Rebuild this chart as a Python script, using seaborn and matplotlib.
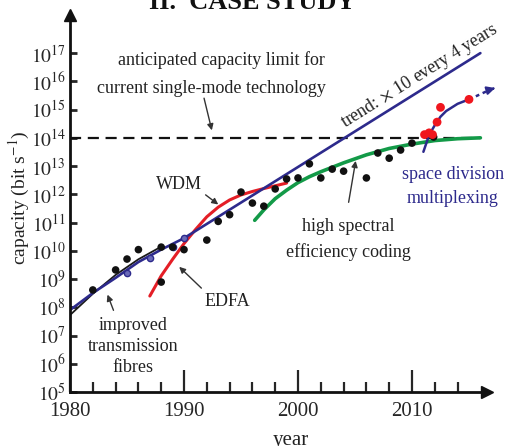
import numpy as np
import matplotlib
matplotlib.use("Agg")
import matplotlib.pyplot as plt
import seaborn as sns

dot_years = [1982, 1984, 1985, 1986, 1988, 1988, 1989, 1990, 1992, 1993, 1994,
             1995, 1996, 1997, 1998, 1999, 2000, 2001, 2002, 2003, 2004,
             2006, 2007, 2008, 2009, 2010, 2011.9]
dot_cap = [4.1e8, 2.1e9, 5.1e9, 1.1e10, 1.35e10, 7.8e8, 1.35e10, 1.1e10, 2.4e10,
           1.1e11, 1.9e11, 1.2e12, 4.9e11, 3.8e11, 1.55e12, 3.5e12, 3.8e12,
           1.2e13, 3.8e12, 7.8e12, 6.6e12, 3.8e12, 2.9e13, 1.9e13, 3.7e13,
           6.5e13, 1.07e14]

sdm_dot_years = [2011.1, 2011.5, 2011.8, 2012.2, 2012.5, 2015.0]
sdm_dot_cap = [1.3e14, 1.5e14, 1.3e14, 3.6e14, 1.2e15, 2.3e15]

# trend: x10 every 4 years
trend_years = [1980, 1982, 1984, 1986, 1988, 1990, 2016]
trend_cap = [8e7, 3.2e8, 1.1e9, 4e9, 1.1e10, 2.8e10, 1e17]
trend_mark_years = [1985, 1987, 1989, 1990]
trend_mark_cap = [1.6e9, 5.5e9, 1.35e10, 2.8e10]

# improved transmission fibres
fibre_years = [1980, 1982, 1984, 1986, 1988]
fibre_cap = [5.3e7, 3.0e8, 1.4e9, 5e9, 1.4e10]

# WDM
wdm_years = [1987, 1988, 1989, 1990, 1991, 1992, 1993, 1994, 1995, 1996, 1997, 1998, 1999]
wdm_cap = [2.5e8, 1.3e9, 5e9, 1.8e10, 5.6e10, 1.6e11, 3.5e11, 6.3e11, 9.5e11,
           1.26e12, 1.6e12, 2e12, 2.5e12]

# high spectral efficiency coding
hsec_years = [1996.2, 1997, 1998, 1999, 2000, 2001, 2002, 2004, 2006, 2008, 2010, 2012, 2014, 2016]
hsec_cap = [1.2e11, 2.8e11, 7e11, 1.4e12, 2.6e12, 4.2e12, 6.3e12, 1.3e13, 2.5e13,
            4.2e13, 6e13, 8e13, 9.3e13, 1e14]

# space division multiplexing
sdm_years = [2011.0, 2011.5, 2012, 2012.5, 2013, 2014, 2015]
sdm_cap = [3.2e13, 1.25e14, 2.8e14, 5.6e14, 8.9e14, 1.6e15, 2.3e15]
sdm_proj_years = [2015, 2016, 2016.9]
sdm_proj_cap = [2.3e15, 3.5e15, 5.2e15]

limit_cap = 1e14

sns.set_style("ticks")
plt.rcParams['font.family'] = ['serif']
plt.rcParams['font.serif'] = ['Liberation Serif', 'DejaVu Serif']
plt.rcParams['mathtext.fontset'] = 'stix'

navy = '#2d2a8c'
red = '#e41e26'
green = '#139a48'
txt = '#222222'

fig = plt.figure(figsize=(5.1, 4.46), dpi=100)
ax = fig.add_axes([0.1373, 0.1211, 0.8176, 0.8453])
ax.set_yscale('log')
ax.set_xlim(1980, 2016.58)
ax.set_ylim(1e5, 10**18.35)

# capacity limit
ax.plot([1980, 2016], [limit_cap, limit_cap], color='#111111', lw=1.6, ls=(0, (5, 3)))

sns.lineplot(x=fibre_years, y=fibre_cap, ax=ax, color='#1a1a1a', lw=1.3)
sns.lineplot(x=wdm_years, y=wdm_cap, ax=ax, color=red, lw=2.2)
sns.lineplot(x=hsec_years, y=hsec_cap, ax=ax, color=green, lw=2.6)
sns.lineplot(x=trend_years, y=trend_cap, ax=ax, color=navy, lw=1.9)
ax.plot(trend_mark_years, trend_mark_cap, 'o', ms=4.5, mfc='#6a6ab8', mec=navy, mew=1)
sns.lineplot(x=sdm_years, y=sdm_cap, ax=ax, color=navy, lw=1.8)
ax.plot(sdm_proj_years, sdm_proj_cap, color=navy, lw=1.8, ls=(0, (1.5, 1.5)), clip_on=False)
ax.annotate('', xy=(sdm_proj_years[-1] + 0.4, sdm_proj_cap[-1] * 1.12),
            xytext=(sdm_proj_years[-1], sdm_proj_cap[-1]),
            arrowprops=dict(arrowstyle='-|>', color=navy, lw=1.5, mutation_scale=12),
            annotation_clip=False)

sns.scatterplot(x=dot_years, y=dot_cap, ax=ax, color='#111111', s=30, edgecolor='none', zorder=5)
sns.scatterplot(x=sdm_dot_years, y=sdm_dot_cap, ax=ax, color='#f0161e', s=40, edgecolor='none', zorder=6)

# annotations
fs = 13
ax.text(1993.3, 10**16.75, 'anticipated capacity limit for', ha='center', va='center', fontsize=fs, color=txt)
ax.text(1992.4, 10**15.76, 'current single-mode technology', ha='center', va='center', fontsize=fs, color=txt)
arr = dict(arrowstyle='-|>', color='#333333', lw=1.0, mutation_scale=9)
ax.annotate('', xy=(1992.5, 10**14.17), xytext=(1991.7, 10**15.5), arrowprops=arr)

ax.text(1989.6, 10**12.35, 'WDM', ha='center', va='center', fontsize=fs, color=txt)
ax.annotate('', xy=(1993.2, 10**11.58), xytext=(1991.7, 10**12.04), arrowprops=arr)

ax.text(1993.8, 10**8.19, 'EDFA', ha='center', va='center', fontsize=fs, color=txt)
ax.annotate('', xy=(1989.4, 10**9.5), xytext=(1991.7, 10**8.61), arrowprops=arr)

ax.text(1985.5, 10**6.62, 'improved\ntransmission\nfibres', ha='center', va='center',
        fontsize=fs, color=txt, linespacing=1.3)
ax.annotate('', xy=(1983.2, 10**8.54), xytext=(1983.9, 10**7.8), arrowprops=arr)

ax.text(2004.4, 10**10.4, 'high spectral\nefficiency coding', ha='center', va='center',
        fontsize=fs, color=txt, linespacing=1.65)
ax.annotate('', xy=(2005.1, 10**13.28), xytext=(2004.4, 10**11.62), arrowprops=arr)

ax.text(2013.6, 10**12.29, 'space division\nmultiplexing', ha='center', va='center',
        fontsize=fs, color=navy, linespacing=1.55)

ax.text(2010.7, 10**16.2, r'trend: $\times$ 10 every 4 years', ha='center', va='center',
        fontsize=fs, color=txt, rotation=32, rotation_mode='anchor')

# axes styling
for s in ['top', 'right']:
    ax.spines[s].set_visible(False)
for s in ['left', 'bottom']:
    ax.spines[s].set_linewidth(2.0)
    ax.spines[s].set_color('#111111')
ax.plot(1, 0, '>', color='#111111', ms=9, transform=ax.transAxes, clip_on=False)
ax.plot(0, 1, '^', color='#111111', ms=9, transform=ax.transAxes, clip_on=False)

ax.set_yticks([10.0**k for k in range(5, 18)])
ax.set_yticklabels([r'$10^{%d}$' % k for k in range(5, 18)])
ax.yaxis.set_minor_locator(matplotlib.ticker.NullLocator())
ax.set_xticks([1980, 1990, 2000, 2010])
ax.set_xticks([y for y in range(1982, 2015, 2) if y % 10], minor=True)
ax.tick_params(axis='y', which='major', direction='in', length=5, width=2.0, labelsize=14, pad=3)
ax.tick_params(axis='x', which='major', direction='in', length=15.5, width=1.6, labelsize=15, pad=7)
ax.tick_params(axis='x', which='minor', direction='in', length=7, width=1.6)

ax.set_xlabel('')
ax.set_ylabel('')
fig.text(0.038, 0.556, r'capacity (bit s$^{-1}$)', rotation=90, ha='center', va='center', fontsize=14, color=txt)
fig.text(0.571, 0.002, 'year', ha='center', va='baseline', fontsize=15, color=txt)
fig.text(0.494, 0.979, 'II.  CASE STUDY', ha='center', va='baseline', fontsize=19,
         fontweight='bold', color='#111111')

fig.savefig('out.png', dpi=100)
